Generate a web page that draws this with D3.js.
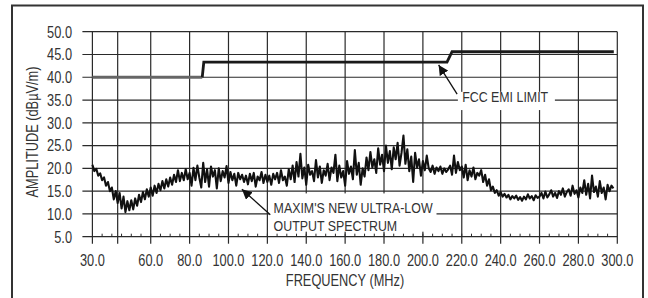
<!DOCTYPE html>
<html>
<head>
<meta charset="utf-8">
<script src="https://cdn.jsdelivr.net/npm/d3@7"></script>
<style>
  body { margin: 0; background: #fff; }
  text { font-family: "Liberation Sans", Arial, sans-serif; fill: #333; }
</style>
</head>
<body>
<script>
// tick labels
var xTicks = [30, 60, 80, 100, 120, 140, 160, 180, 200, 220, 240, 260, 280, 300];
var xExtraGrid = [43];
var yTicks = [5, 10, 15, 20, 25, 30, 35, 40, 45, 50];

// FCC limit (MHz, dBuV/m)
var fccFreq  = [30, 86.5, 87.3, 212.4, 215, 298.2];
var fccLevel = [40, 40, 43.3, 43.3, 45.6, 45.6];

// measured spectrum, one value per MHz starting at 30 MHz
var specStart = 30;
var specValues = [
  20.8, 19.4, 19.9, 18.4, 18.9, 17.4, 18.0, 16.2, 17.0, 15.0,
  15.8, 13.2, 15.0, 12.4, 14.6, 11.2, 13.8, 10.4, 12.8, 10.8,
  13.0, 11.0, 13.4, 11.8, 14.2, 12.6, 14.8, 13.2, 15.4, 13.8,
  15.8, 14.0, 16.2, 14.6, 16.6, 15.2, 17.2, 15.6, 17.6, 16.0,
  18.0, 16.4, 18.6, 17.0, 19.6, 17.2, 19.0, 17.4, 19.8, 17.6,
  19.0, 16.2, 20.1, 17.4, 20.6, 18.0, 15.8, 21.2, 17.0, 19.8,
  16.0, 20.4, 18.2, 19.6, 15.6, 20.0, 17.2, 19.4, 18.0, 20.5,
  16.8, 19.2, 17.4, 18.8, 16.2, 19.0, 17.6, 18.6, 17.0, 18.4,
  16.5, 18.8, 17.2, 19.0, 16.0, 18.2, 17.4, 19.2, 16.8, 18.6,
  17.0, 18.4, 16.4, 18.8, 17.6, 19.0, 16.8, 19.6, 17.4, 18.2,
  16.2, 19.8, 17.6, 20.6, 17.0, 21.4, 18.2, 23.2, 17.8, 20.2,
  16.4, 20.8, 18.6, 19.4, 17.2, 21.8, 18.0, 20.4, 16.8, 19.6,
  18.4, 21.0, 17.4, 20.2, 19.0, 23.0, 17.2, 20.6, 18.0, 19.4,
  16.2, 21.6, 18.8, 20.4, 17.6, 24.0, 18.6, 21.2, 16.4, 20.0,
  18.2, 22.4, 19.6, 23.6, 20.2, 22.0, 19.0, 24.4, 20.8, 23.0,
  19.4, 25.0, 21.2, 23.8, 19.8, 24.6, 22.0, 25.6, 20.6, 23.4,
  27.2, 21.0, 24.2, 19.4, 22.6, 17.0, 23.4, 20.2, 22.0, 18.4,
  21.6, 19.6, 22.8, 20.0, 19.2, 20.6, 18.8, 20.2, 19.4, 20.4,
  18.8, 20.0, 19.2, 19.8, 20.6, 18.6, 22.8, 19.0, 21.4, 19.6,
  20.4, 18.0, 20.8, 17.4, 19.6, 18.2, 20.2, 17.6, 19.0, 18.4,
  19.6, 17.0, 18.6, 16.2, 17.6, 15.2, 16.0, 14.6, 15.2, 14.0,
  14.8, 13.8, 14.4, 13.6, 14.2, 13.2, 13.9, 13.4, 14.0, 13.1,
  13.7, 12.9, 13.8, 13.2, 14.3, 13.4, 13.9, 13.0, 14.1, 13.5,
  13.8, 14.6, 13.4, 14.9, 13.6, 14.3, 15.2, 13.8, 14.6, 13.5,
  15.0, 14.2, 15.6, 13.8, 14.8, 15.4, 14.0, 16.2, 14.4, 15.2,
  13.6, 15.8, 14.6, 17.4, 14.2, 16.6, 13.4, 18.4, 14.8, 16.0,
  13.8, 17.2, 14.6, 15.8, 13.2, 16.4, 15.0, 16.2, 15.6
];

var width = 648, height = 298;
var squeeze = 0.8; // condensed look of the original type

var svg = d3.select("body").append("svg")
    .attr("width", width)
    .attr("height", height);

var x = d3.scaleLinear().domain([30, 300]).range([92.4, 617.3]);
var y = d3.scaleLinear().domain([5, 50]).range([236.7, 31.7]);

function narrowText(px, py, str, size, anchor, rot) {
  return svg.append("text")
      .attr("transform", "translate(" + px + "," + py + ")" + (rot ? " rotate(" + rot + ")" : "") + " scale(" + squeeze + ",1)")
      .attr("text-anchor", anchor || "start")
      .style("font-size", size + "px")
      .text(str);
}

// outer frame
svg.append("rect")
    .attr("x", 12).attr("y", 5.5)
    .attr("width", 631).attr("height", 310)
    .attr("fill", "none")
    .attr("stroke", "#333")
    .attr("stroke-width", 2);

var grid = svg.append("g").attr("stroke", "#2a2a2a").attr("stroke-width", 1.2);

// horizontal grid
grid.selectAll(".hg")
    .data(yTicks)
    .enter().append("line")
    .attr("x1", x(30) - 10).attr("x2", x(300))
    .attr("y1", d => y(d)).attr("y2", d => y(d));

// vertical grid
grid.selectAll(".vg")
    .data(xTicks.concat(xExtraGrid))
    .enter().append("line")
    .attr("x1", d => x(d)).attr("x2", d => x(d))
    .attr("y1", y(50)).attr("y2", y(5) + 7);

// minor ticks every 5 MHz on the bottom line
grid.selectAll(".mt")
    .data(d3.range(35, 300, 5))
    .enter().append("line")
    .attr("stroke-width", 1)
    .attr("x1", d => x(d)).attr("x2", d => x(d))
    .attr("y1", y(5)).attr("y2", y(5) - 3);

// tick labels
yTicks.forEach(d => narrowText(72, y(d) + 5.8, d.toFixed(1), 16, "end"));
xTicks.forEach(d => narrowText(x(d), 266, d.toFixed(1), 16, "middle"));

// axis titles
narrowText(38, 132, "AMPLITUDE (dBµV/m)", 16, "middle", -90);
narrowText(345, 285.5, "FREQUENCY (MHz)", 16, "middle");

// label backgrounds (they cut the grid)
svg.append("rect")
    .attr("x", x(218)).attr("y", y(36.8))
    .attr("width", 97).attr("height", y(32.8) - y(36.8))
    .attr("fill", "#fff");
svg.append("rect")
    .attr("x", x(121)).attr("y", y(14.5))
    .attr("width", x(207) - x(121)).attr("height", y(6.1) - y(14.5))
    .attr("fill", "#fff");

// FCC limit
var line = d3.line().x(d => x(d[0])).y(d => y(d[1]));
var fcc = fccFreq.map((f, i) => [f, fccLevel[i]]);
svg.append("path")
    .attr("d", line(fcc.slice(0, 2)))
    .attr("fill", "none").attr("stroke", "#666").attr("stroke-width", 2.8);
svg.append("path")
    .attr("d", line(fcc.slice(1)))
    .attr("fill", "none").attr("stroke", "#1a1a1a").attr("stroke-width", 2.8);

// spectrum
var spec = specValues.map((v, i) => [specStart + i, v]);
svg.append("path")
    .attr("d", line(spec))
    .attr("fill", "none")
    .attr("stroke", "#111")
    .attr("stroke-width", 2.1)
    .attr("stroke-linejoin", "round");

// arrows
svg.append("defs").append("marker")
    .attr("id", "arrow")
    .attr("viewBox", "0 0 10 10")
    .attr("refX", 10).attr("refY", 5)
    .attr("markerWidth", 10).attr("markerHeight", 10)
    .attr("markerUnits", "userSpaceOnUse")
    .attr("orient", "auto")
    .append("path")
    .attr("d", "M0,0 L10,5 L0,10 Z")
    .attr("fill", "#111");

svg.append("line")
    .attr("x1", x(217.6)).attr("y1", y(36.3))
    .attr("x2", x(208.1)).attr("y2", y(42.7))
    .attr("stroke", "#111").attr("stroke-width", 1.3)
    .attr("marker-end", "url(#arrow)");

svg.append("line")
    .attr("x1", x(121.5)).attr("y1", y(9.8))
    .attr("x2", x(106.9)).attr("y2", y(15.4))
    .attr("stroke", "#111").attr("stroke-width", 1.3)
    .attr("marker-end", "url(#arrow)");

// annotation texts
narrowText(x(220.2), y(34.5), "FCC EMI LIMIT", 15.5);
narrowText(x(123.2), y(10.3), "MAXIM'S NEW ULTRA-LOW", 15.5);
narrowText(x(123.2), y(6.25), "OUTPUT SPECTRUM", 15.5);
</script>
</body>
</html>
